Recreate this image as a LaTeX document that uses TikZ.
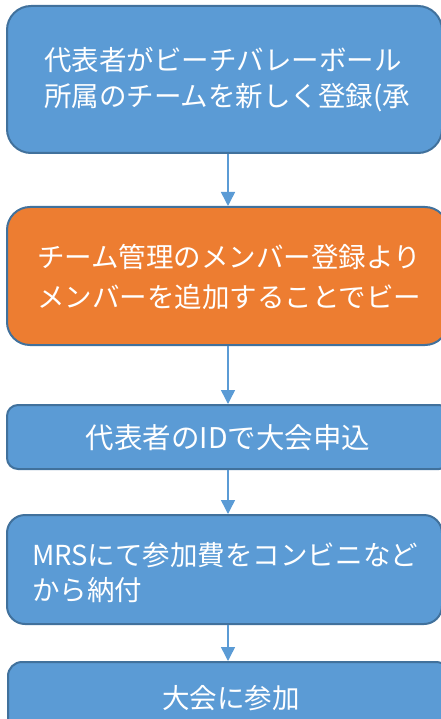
\documentclass[tikz,border=0pt]{standalone}
\usepackage{fontspec}
\setmainfont{Noto Sans CJK JP}
\usetikzlibrary{arrows.meta}
\definecolor{boxblue}{HTML}{5B9BD5}
\definecolor{boxorange}{HTML}{ED7D31}
\definecolor{edgeblue}{HTML}{41719C}
\begin{document}
\begin{tikzpicture}[x=1pt,y=-1pt,
  box/.style={draw=edgeblue,line width=2pt,rectangle,inner sep=0pt},
  blue box/.style={box,fill=boxblue},
  orange box/.style={box,fill=boxorange},
  txt/.style={text=white,inner sep=0pt,align=left,font=\fontsize{27.5}{36}\selectfont},
  arr/.style={draw=boxblue,line width=1.5pt,-{Triangle[width=14pt,length=14pt]}}]
\useasboundingbox (0,0) rectangle (441,719);
\clip (0,0) rectangle (441,719);
\node[blue box,rounded corners=24pt,minimum width=435pt,minimum height=147pt] (b1) at (224.5,79.5) {};
\node[orange box,rounded corners=23pt,minimum width=441pt,minimum height=138pt] (b2) at (227.5,276) {};
\node[blue box,rounded corners=11pt,minimum width=443pt,minimum height=64pt] (b3) at (228.5,437) {};
\node[blue box,rounded corners=18pt,minimum width=435pt,minimum height=109pt] (b4) at (224.5,569.5) {};
\node[blue box,rounded corners=14pt,minimum width=442pt,minimum height=100pt] (b5) at (229,712) {};
\node[txt,anchor=west] (t1) at (44,80) {代表者がビーチバレーボール\\所属のチームを新しく登録(承};
\node[txt,anchor=west,font=\fontsize{27.5}{40}\selectfont] (t2) at (37,277) {チーム管理のメンバー登録より\\メンバーを追加することでビー};
\node[txt,font=\fontsize{28.5}{36}\selectfont] (t3) at (228,438) {代表者のIDで大会申込};
\node[txt,anchor=west,font=\fontsize{27.5}{35}\selectfont] (t4) at (32,572.5) {MRSにて参加費をコンビニなど\\から納付};
\node[txt] (t5) at (231,698) {大会に参加};
\coordinate (ax) at (228,0);
\draw[arr] (b1.south -| ax) -- (b2.north -| ax);
\draw[arr] (b2.south -| ax) -- (b3.north -| ax);
\draw[arr] (b3.south -| ax) -- (b4.north -| ax);
\draw[arr] (b4.south -| ax) -- (b5.north -| ax);
\end{tikzpicture}
\end{document}
